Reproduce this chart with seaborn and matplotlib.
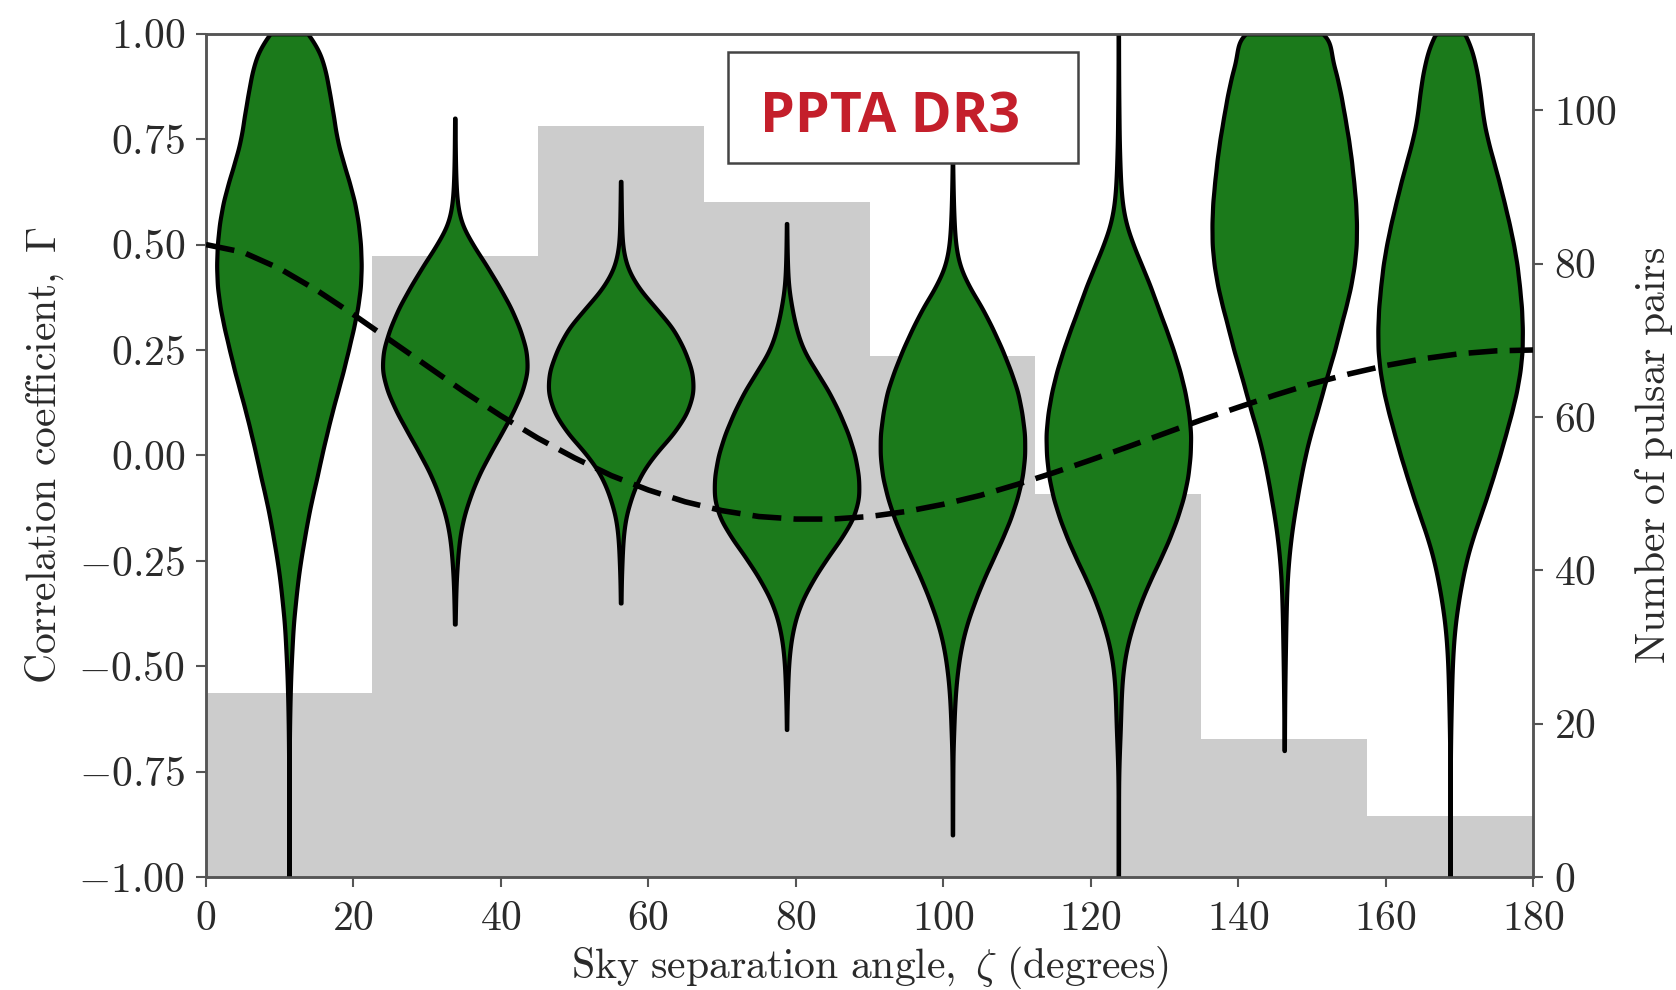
import numpy as np
import pandas as pd
import matplotlib
matplotlib.use("Agg")
import matplotlib.pyplot as plt
from matplotlib.patches import Rectangle
from matplotlib.ticker import FuncFormatter
import seaborn as sns

# Angular bins (degrees) and number of pulsar pairs in each bin
bin_edges = [0, 22.5, 45, 67.5, 90, 112.5, 135, 157.5, 180]
pair_counts = [24, 81, 98, 88, 68, 50, 18, 8]

# Hellings-Downs expectation
hd_zeta = [0, 5, 10, 15, 20, 25, 30, 35, 40, 45, 50, 55, 60, 65, 70, 75, 80, 85, 90,
           95, 100, 105, 110, 115, 120, 125, 130, 135, 140, 145, 150, 155, 160, 165,
           170, 175, 180]
hd_gamma = [0.500, 0.482, 0.443, 0.392, 0.334, 0.273, 0.212, 0.151, 0.094, 0.041,
            -0.006, -0.048, -0.082, -0.110, -0.131, -0.145, -0.151, -0.151, -0.145,
            -0.133, -0.116, -0.095, -0.069, -0.041, -0.011, 0.020, 0.052, 0.084,
            0.114, 0.143, 0.170, 0.193, 0.213, 0.229, 0.241, 0.248, 0.250]

# Relative posterior density of Gamma in each angular bin,
# tabulated on Gamma = -1.00, -0.95, ..., 1.00
gamma_levels = np.round(np.linspace(-1.0, 1.0, 41), 2)

pdf_bin1 = [0.3, 0.3, 0.3, 0.3, 0.3, 0.3, 0.5, 0.8, 1.3, 2, 3, 4.5, 6, 9, 12, 16, 21,
            26, 32, 39, 45, 52, 59, 67, 75, 82, 89, 95, 99, 100, 99, 96, 91, 83, 74,
            66, 62, 57, 52, 45, 28]
pdf_bin2 = [0, 0, 0, 0, 0, 0, 0, 0, 0, 0, 0, 0, 0.5, 1.0, 1.8, 3.5, 6, 11, 20, 31, 46,
            62, 78, 91, 99, 97, 88, 76, 60, 43, 24, 8, 3, 1.5, 0.8, 0.5, 0.3, 0, 0, 0, 0]
pdf_bin3 = [0, 0, 0, 0, 0, 0, 0, 0, 0, 0, 0, 0, 0, 0.5, 0.8, 1.8, 3, 6, 14, 25, 44,
            71, 90, 99, 97, 86, 72, 47, 22, 7, 2, 1.2, 0.7, 0.4, 0, 0, 0, 0, 0, 0, 0]
pdf_bin4 = [0, 0, 0, 0, 0, 0, 0, 0.3, 0.6, 1.5, 2.5, 5, 10, 19, 34, 52, 73, 91, 99,
            98, 93, 84, 72, 58, 40, 22, 13, 7, 2.5, 1.2, 0.6, 0.3, 0, 0, 0, 0, 0, 0, 0,
            0, 0]
pdf_bin5 = [0, 0, 0.3, 0.3, 0.4, 0.5, 0.8, 1.8, 2.8, 4.5, 7.5, 12, 19, 29, 40, 53, 66,
            78, 87, 94, 97, 97, 93, 88, 78, 67, 54, 40, 22, 9, 4, 2.3, 1.3, 0.7, 0.3,
            0, 0, 0, 0, 0, 0]
pdf_bin6 = [0.3, 0.3, 0.3, 0.3, 0.3, 0.6, 1.5, 2.7, 3.5, 4.5, 7, 12, 20, 30, 42, 56,
            69, 80, 89, 95, 98, 99, 96, 91, 84, 75, 65, 54, 44, 32, 20, 10, 5, 3, 2,
            1.2, 0.9, 0.6, 0.4, 0.3, 0.3]
pdf_bin7 = [0, 0, 0, 0, 0, 0, 0.3, 0.4, 0.6, 0.9, 1.3, 1.8, 2.3, 3, 4, 6, 9, 13, 18,
            23, 29, 36, 45, 53, 61, 70, 77, 85, 92, 97, 100, 100, 99, 96, 93, 89, 84,
            79, 73, 64, 66]
pdf_bin8 = [0.3, 0.3, 0.3, 0.3, 0.3, 0.3, 0.5, 0.9, 1.5, 2.2, 3, 4.5, 7, 11, 16, 22,
            30, 40, 50, 59, 68, 76, 84, 91, 96, 99, 99, 98, 95, 92, 87, 81, 74, 67, 59,
            51, 45, 42, 38, 32, 22]

bin_pdfs = [pdf_bin1, pdf_bin2, pdf_bin3, pdf_bin4,
            pdf_bin5, pdf_bin6, pdf_bin7, pdf_bin8]

# ---- styling ---------------------------------------------------------------
sns.set_style("ticks")
plt.rcParams.update({
    "font.family": "serif",
    "font.serif": ["cmr10", "DejaVu Serif"],
    "mathtext.fontset": "cm",
    "mathtext.rm": "cmr10",
    "axes.formatter.use_mathtext": True,
})

GREEN = "#1b7a1b"
GREY_BAR = "#cccccc"
SPINE = "#555555"
TEXT = "#2a2a2a"
FS = 30


def cm_text(s):
    """Typeset plain words in Computer Modern roman through mathtext."""
    return r"\mathrm{" + s.replace(" ", r"\ ") + "}"


fig = plt.figure(figsize=(16.76, 9.9), dpi=100)
ax = fig.add_axes([0.1229, 0.1141, 0.7918, 0.8518])
ax2 = ax.twinx()

# ---- histogram of pulsar pairs (right axis, drawn behind) -----------------
edges = np.asarray(bin_edges, dtype=float)
centers = 0.5 * (edges[:-1] + edges[1:])
hist_df = pd.DataFrame({"zeta": centers, "pairs": pair_counts})
sns.histplot(data=hist_df, x="zeta", weights="pairs", bins=len(pair_counts),
             binrange=(bin_edges[0], bin_edges[-1]), ax=ax2,
             color=GREY_BAR, alpha=1.0, linewidth=0, element="bars", fill=True)
ax2.set_ylim(0, 110)
ax2.set_yticks([0, 20, 40, 60, 80, 100])
ax2.set_ylabel("$" + cm_text("Number of pulsar pairs") + "$", fontsize=FS,
               color=TEXT, labelpad=12)

ax.set_zorder(ax2.get_zorder() + 1)
ax.patch.set_visible(False)

# ---- violins of the correlation posterior per bin --------------------------
frames = []
for zeta, pdf in zip(centers, bin_pdfs):
    counts = np.round(np.asarray(pdf) * 10).astype(int)
    samples = np.repeat(gamma_levels, counts)
    frames.append(pd.DataFrame({"zeta": zeta, "gamma": samples}))

for df in frames:
    sigma = 0.032 / np.std(df["gamma"].to_numpy())
    sns.violinplot(data=df, x="zeta", y="gamma", native_scale=True, orient="x",
                   color=GREEN, saturation=1, linecolor="black", linewidth=3.0,
                   inner=None, cut=0, density_norm="width", width=19.6,
                   bw_method=sigma, gridsize=400, ax=ax)

# ---- Hellings-Downs curve ---------------------------------------------------
sns.lineplot(x=hd_zeta, y=hd_gamma, ax=ax, color="black", linewidth=4.0,
             linestyle=(0, (5.2, 2.2)), zorder=3)

# ---- axes ------------------------------------------------------------------
ax.set_xlim(0, 180)
ax.set_ylim(-1, 1)
ax.set_xticks(np.arange(0, 181, 20))
ax.set_yticks(np.linspace(-1, 1, 9))
ax.xaxis.set_major_formatter(FuncFormatter(lambda v, _: rf"$\mathrm{{{v:.0f}}}$"))
ax.yaxis.set_major_formatter(FuncFormatter(lambda v, _: rf"$\mathrm{{{v:.2f}}}$"))
ax2.yaxis.set_major_formatter(FuncFormatter(lambda v, _: rf"$\mathrm{{{v:.0f}}}$"))

ax.set_xlabel("$" + cm_text("Sky separation angle,") + r"\ \zeta\ "
              + cm_text("(degrees)") + "$", fontsize=FS, color=TEXT, labelpad=4)
ax.set_ylabel("$" + cm_text("Correlation coefficient,") + r"\ \Gamma$",
              fontsize=FS, color=TEXT, labelpad=9)

for a in (ax, ax2):
    a.tick_params(direction="out", length=7, width=1.5, color=SPINE,
                  labelsize=FS, labelcolor=TEXT, pad=8)
    for s in a.spines.values():
        s.set_visible(True)
        s.set_color(SPINE)
        s.set_linewidth(1.8)
ax.tick_params(axis="x", pad=10)

# ---- data-release tag --------------------------------------------------------
ax.add_patch(Rectangle((0.3934, 0.847), 0.2637, 0.1316, transform=ax.transAxes,
                       facecolor="white", edgecolor="#444444", linewidth=1.8,
                       zorder=6))
ax.text(0.5155, 0.883, "PPTA DR3", transform=ax.transAxes, ha="center",
        va="baseline", fontsize=40, fontweight="bold", color="#c41f2b",
        family=["Open Sans", "DejaVu Sans"], zorder=7)

fig.savefig("out.png", dpi=100, facecolor="white")
